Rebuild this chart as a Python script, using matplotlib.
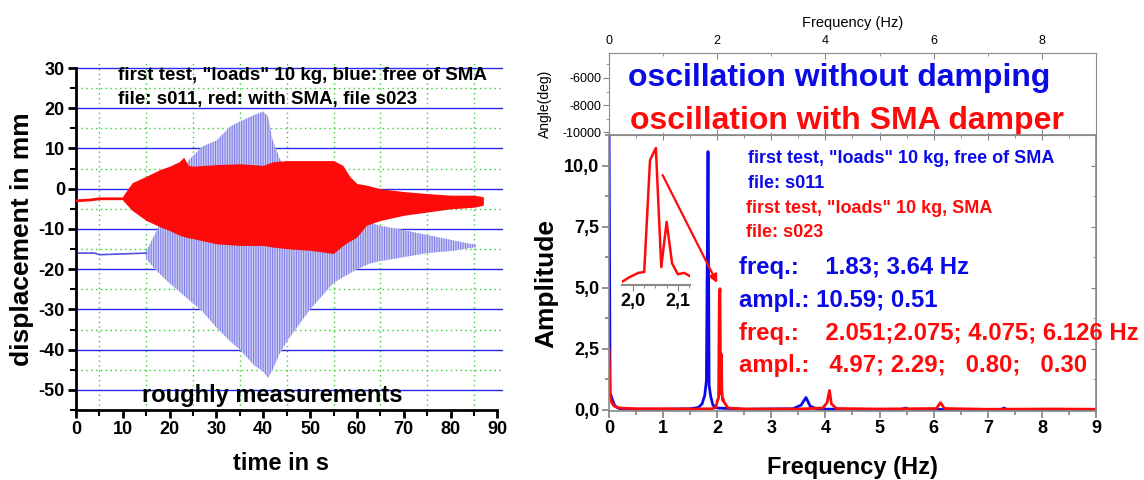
import matplotlib.pyplot as plt
from matplotlib.ticker import MultipleLocator, FuncFormatter

plt.rcParams['font.family'] = 'Liberation Sans'
plt.rcParams['axes.unicode_minus'] = False
plt.rcParams['hatch.linewidth'] = 0.8

BLUE = '#0a0ae6'
RED = '#ff0a0a'

# time signals, s011 (free of SMA): flat start, then envelope of the oscillation
blue_base_t = [0, 4, 5, 15]
blue_base_y = [-16.0, -16.0, -16.4, -16.0]
blue_t = [15, 17, 20, 22, 24, 27, 30, 33, 35, 38, 40, 41, 42, 43.5, 45, 50, 55, 60, 63, 65, 70, 75, 80, 85.5]
blue_hi = [-15.5, -11, -4, 2, 7, 10.5, 12, 15.5, 16.7, 18.3, 19.2, 18, 12, 7.5, 5, 0.5, -3, -6.5, -8.5, -9.2, -10.3, -11.5, -12.7, -14]
blue_lo = [-17.5, -20.2, -23.5, -25.5, -27.5, -30.5, -34.5, -38, -40, -43.8, -45.5, -47, -45, -41, -38, -30, -23.4, -20, -18.5, -18, -17, -16, -15.5, -14.5]

# s023 (with SMA damper)
red_base_t = [0, 3, 5, 10]
red_base_y = [-3.0, -2.8, -2.5, -2.5]
red_t = [10, 12, 15, 18, 20, 22, 23, 24, 25, 30, 35, 40, 42, 45, 50, 55, 57, 58.5, 60, 62, 65, 70, 75, 80, 85, 87]
red_hi = [-1.8, 1.5, 3.1, 4.8, 5.6, 6.7, 7.8, 5.8, 5.6, 6.0, 6.2, 5.8, 6.7, 7.0, 7.0, 7.0, 5.8, 3.0, 1.3, 0.9, 0.0, -0.7, -1.2, -1.6, -1.6, -2.0]
red_lo = [-2.9, -5.4, -7.9, -9.5, -10.4, -11.5, -11.9, -12.2, -12.4, -13.7, -14.1, -14.1, -14.5, -14.9, -15.3, -16.1, -14.1, -13.0, -12.0, -9.1, -7.9, -6.6, -5.8, -5.0, -4.6, -4.1]

# spectrum peaks as given in the annotation
blue_peak_f = [1.83, 3.64]
blue_peak_a = [10.59, 0.51]
red_peak_f = [2.051, 2.075, 4.075, 6.126]
red_peak_a = [4.97, 2.29, 0.80, 0.30]

# amplitude spectra
blue_f = [0.0, 0.02, 0.05, 0.1, 0.15, 0.2, 0.5, 1.0, 1.5, 1.65, 1.72, 1.77, 1.80, blue_peak_f[0], 1.85, 1.88, 1.92, 2.0,
          2.5, 3.4, 3.55, blue_peak_f[1], 3.72, 3.85, 4.5, 5.4, 5.48, 5.55, 7.25, 7.3, 7.35, 9.0]
blue_a = [12.0, 0.7, 0.5, 0.2, 0.1, 0.05, 0.03, 0.03, 0.05, 0.1, 0.25, 0.6, 1.2, blue_peak_a[0], 1.0, 0.55, 0.2, 0.08,
          0.03, 0.05, 0.2, blue_peak_a[1], 0.15, 0.04, 0.02, 0.02, 0.08, 0.02, 0.02, 0.08, 0.02, 0.02]
red_f = [0.0, 0.02, 0.05, 0.1, 0.2, 0.5, 1.0, 1.5, 1.9, 1.95, 1.975, 1.993, 2.012, 2.025, 2.038, red_peak_f[0], 2.063,
         red_peak_f[1], 2.087, 2.1, 2.114, 2.127, 2.2, 2.5, 3.5, 3.95, 4.03, red_peak_f[2], 4.11, 4.2, 5.0, 6.05,
         red_peak_f[3], 6.2, 7.0, 8.2, 9.0]
red_a = [2.5, 0.6, 0.3, 0.15, 0.08, 0.05, 0.05, 0.04, 0.05, 0.08, 0.11, 0.29, 0.44, 0.47, 4.53, red_peak_a[0], 0.65,
         red_peak_a[1], 0.79, 0.39, 0.44, 0.32, 0.08, 0.04, 0.04, 0.08, 0.3, red_peak_a[2], 0.25, 0.06, 0.04, 0.06,
         red_peak_a[3], 0.06, 0.03, 0.04, 0.03]

W, H = 1144, 480


def box(x0, y0, x1, y1):
    return [x0 / W, 1 - y1 / H, (x1 - x0) / W, (y1 - y0) / H]


comma = FuncFormatter(lambda v, pos: f'{v:.1f}'.replace('.', ','))

fig = plt.figure(figsize=(W / 100, H / 100), dpi=100)

# ---- left: displacement vs time ----
ax1 = fig.add_axes(box(76, 62, 503, 410))
ax1.fill_between(blue_t, blue_lo, blue_hi, facecolor='#cdcdf5', edgecolor='#8080e8',
                 hatch='|' * 7, linewidth=0, zorder=2)
ax1.plot(blue_base_t, blue_base_y, color='#5050e0', lw=1.2, zorder=2)
ax1.fill_between(red_t, red_lo, red_hi, color=RED, linewidth=0, zorder=3)
ax1.plot(red_base_t, red_base_y, color=RED, lw=2, zorder=3)

ax1.set_xlim(0, 91.2)
ax1.set_ylim(-55, 31.5)
ax1.set_xticks(range(0, 91, 10))
ax1.set_yticks(range(-50, 31, 10))
ax1.xaxis.set_minor_locator(MultipleLocator(5))
ax1.yaxis.set_minor_locator(MultipleLocator(5))
ax1.grid(which='major', color='#2a2af0', lw=1.0, zorder=1)
ax1.grid(which='minor', color='#33cc33', lw=1.0, ls=(0, (1, 2.5)), zorder=1)
for t in ax1.xaxis.get_major_ticks():
    if t.get_loc() in (0, 90):
        t.gridline.set_visible(False)
for t in ax1.yaxis.get_major_ticks():
    if t.get_loc() == 30:
        t.gridline.set_visible(False)
ax1.set_axisbelow(True)
for s in ('top', 'right'):
    ax1.spines[s].set_visible(False)
ax1.spines['left'].set_bounds(-55, 30)
ax1.spines['bottom'].set_bounds(0, 90)
for s in ('left', 'bottom'):
    ax1.spines[s].set_linewidth(2)
ax1.tick_params(which='major', direction='out', length=6, width=2, labelsize=13, pad=2)
ax1.tick_params(which='minor', direction='out', length=4, width=1.5)
for lbl in ax1.get_xticklabels() + ax1.get_yticklabels():
    lbl.set_fontweight('bold')
ax1.set_ylabel('displacement in mm', fontsize=19, fontweight='bold')
ax1.yaxis.set_label_coords(-0.098, 0.49)
ax1.set_xlabel('time in s', fontsize=17, fontweight='bold')
ax1.xaxis.set_label_coords(0.48, -0.12)

ax1.text(9.0, 27.0, 'first test, "loads" 10 kg, blue: free of SMA', fontsize=13.5, fontweight='bold')
ax1.text(9.0, 21.0, 'file: s011, red: with SMA, file s023', fontsize=13.5, fontweight='bold')
ax1.text(14.0, -53.0, 'roughly measurements', fontsize=17, fontweight='bold')

# ---- right, upper: phase panel (empty) ----
ax3 = fig.add_axes(box(609, 53, 1096, 135))
ax3.set_xlim(0, 9)
ax3.set_ylim(-10220, -4150)
ax3.set_yticks([-10000, -8000, -6000])
ax3.yaxis.set_minor_locator(MultipleLocator(1000))
ax3.set_xticks(range(0, 9, 2))
ax3.xaxis.set_minor_locator(MultipleLocator(1))
ax3.xaxis.tick_top()
ax3.xaxis.set_label_position('top')
ax3.tick_params(axis='x', which='both', direction='in', top=True, bottom=True, labelsize=9, pad=4, color='#888888')
ax3.tick_params(axis='y', which='both', direction='out', left=True, labelsize=9, pad=1.5, color='#888888')
ax3.tick_params(which='major', length=4)
ax3.tick_params(which='minor', length=2.5)
for s in ax3.spines.values():
    s.set_color('#8a8a8a')
ax3.set_xlabel('Frequency (Hz)', fontsize=10.5)
ax3.xaxis.set_label_coords(0.5, 1.32)
ax3.set_ylabel('Angle(deg)', fontsize=10)
ax3.yaxis.set_label_coords(-0.118, 0.38)
ax3.text(0.35, -6600, 'oscillation without damping', color=BLUE, fontsize=23, fontweight='bold')
ax3.text(0.38, -9750, 'oscillation with SMA damper', color=RED, fontsize=23, fontweight='bold')

# ---- right, lower: amplitude spectrum ----
ax2 = fig.add_axes(box(609, 135, 1096, 410.7))
ax2.plot(blue_f, blue_a, color=BLUE, lw=2)
ax2.plot(red_f, red_a, color=RED, lw=2)
ax2.set_xlim(0, 9)
ax2.set_ylim(-0.03, 11.27)
ax2.set_xticks(range(0, 10))
ax2.set_yticks([0, 2.5, 5, 7.5, 10])
ax2.xaxis.set_minor_locator(MultipleLocator(0.5))
ax2.yaxis.set_minor_locator(MultipleLocator(1.25))
ax2.yaxis.set_major_formatter(comma)
ax2.tick_params(which='both', direction='out', color='#808080', width=1.2, labelsize=13, pad=2)
ax2.tick_params(which='major', length=5)
ax2.tick_params(which='minor', length=3)
for lbl in ax2.get_xticklabels() + ax2.get_yticklabels():
    lbl.set_fontweight('bold')
for s in ax2.spines.values():
    s.set_color('#8a8a8a')
    s.set_linewidth(1.2)
sec_y = ax2.secondary_yaxis('right')
sec_y.set_yticks([0, 2.5, 5, 7.5, 10])
sec_y.yaxis.set_minor_locator(MultipleLocator(1.25))
sec_y.tick_params(which='both', direction='in', labelright=False, color='#808080')
sec_y.spines['right'].set_color('#8a8a8a')
sec_x = ax2.secondary_xaxis('top')
sec_x.set_xticks(range(0, 10))
sec_x.xaxis.set_minor_locator(MultipleLocator(0.5))
sec_x.tick_params(which='both', direction='in', labeltop=False, color='#808080')
sec_x.spines['top'].set_color('#8a8a8a')
ax2.set_ylabel('Amplitude', fontsize=19, fontweight='bold')
ax2.yaxis.set_label_coords(-0.103, 0.46)
ax2.set_xlabel('Frequency (Hz)', fontsize=17, fontweight='bold')
ax2.xaxis.set_label_coords(0.5, -0.165)

ax2.text(2.57, 10.12, 'first test, "loads" 10 kg, free of SMA', color=BLUE, fontsize=13, fontweight='bold')
ax2.text(2.57, 9.1, 'file: s011', color=BLUE, fontsize=13, fontweight='bold')
ax2.text(2.53, 8.08, 'first test, "loads" 10 kg, SMA', color=RED, fontsize=13, fontweight='bold')
ax2.text(2.53, 7.1, 'file: s023', color=RED, fontsize=13, fontweight='bold')
ax2.text(2.40, 5.57, f'freq.:    {blue_peak_f[0]:.2f}; {blue_peak_f[1]:.2f} Hz', color=BLUE, fontsize=17.2, fontweight='bold')
ax2.text(2.40, 4.22, f'ampl.: {blue_peak_a[0]:.2f}; {blue_peak_a[1]:.2f}', color=BLUE, fontsize=17.2, fontweight='bold')
ax2.text(2.40, 2.87, 'freq.:    ' + f'{red_peak_f[0]:.3f};{red_peak_f[1]:.3f}; {red_peak_f[2]:.3f}; {red_peak_f[3]:.3f} Hz',
         color=RED, fontsize=17.2, fontweight='bold', clip_on=False)
ax2.text(2.40, 1.57, 'ampl.:   ' + f'{red_peak_a[0]:.2f}; {red_peak_a[1]:.2f};   {red_peak_a[2]:.2f};   {red_peak_a[3]:.2f}',
         color=RED, fontsize=17.2, fontweight='bold')
ax2.annotate('', xy=(2.0, 5.2), xytext=(0.99, 9.63),
             arrowprops=dict(arrowstyle='-|>', color=RED, lw=1.6, mutation_scale=12, shrinkA=0, shrinkB=0))

# zoom on the double peak around 2.05 Hz
ax4 = fig.add_axes(box(622, 144.5, 690, 285))
ax4.patch.set_alpha(0)
ax4.plot(red_f, red_a, color=RED, lw=1.8)
ax4.set_xlim(1.9756, 2.127)
ax4.set_ylim(0, 5.1)
ax4.set_xticks([2.0, 2.1])
ax4.xaxis.set_minor_locator(MultipleLocator(0.025))
ax4.xaxis.set_major_formatter(comma)
ax4.set_yticks([])
for s in ('top', 'right', 'left'):
    ax4.spines[s].set_visible(False)
ax4.spines['bottom'].set_color('#8a8a8a')
ax4.spines['bottom'].set_linewidth(1.5)
ax4.tick_params(which='both', direction='out', color='#808080', labelsize=13, pad=2)
ax4.tick_params(which='major', length=4)
ax4.tick_params(which='minor', length=2.5)
for lbl in ax4.get_xticklabels():
    lbl.set_fontweight('bold')

fig.savefig('out.png', dpi=100)
